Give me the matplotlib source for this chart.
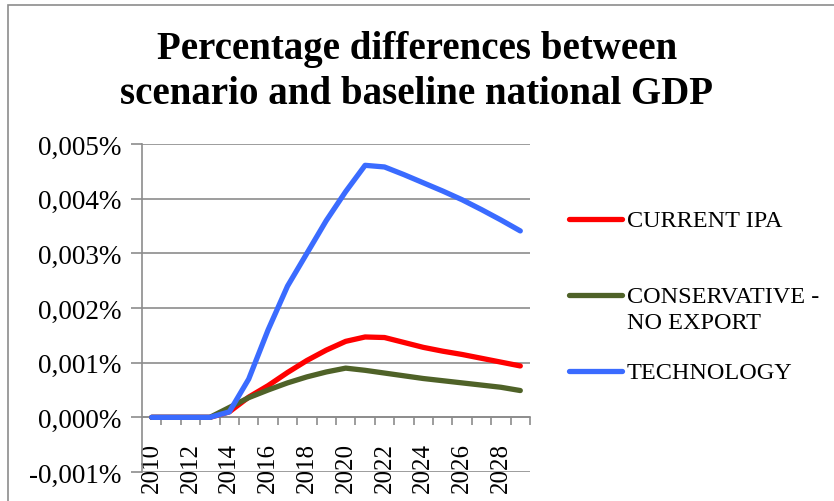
"""Percentage differences between scenario and baseline national GDP."""

import numpy as np
import matplotlib.pyplot as plt
from matplotlib.lines import Line2D
from matplotlib.patches import Rectangle
from matplotlib.ticker import FixedLocator, FuncFormatter

plt.rcParams['font.family'] = ['Liberation Serif', 'DejaVu Serif']

years = list(range(2010, 2030))
current_ipa = [0, 0, 0, 0, 0.0001, 0.00037, 0.00058, 0.00082, 0.00104, 0.00123,
               0.00139, 0.00147, 0.00146, 0.00137, 0.00128, 0.00121, 0.00115,
               0.00108, 0.00101, 0.00094]
conservative = [0, 0, 0, 0, 0.00018, 0.00036, 0.0005, 0.00063, 0.00074, 0.00083,
                0.0009, 0.00086, 0.00081, 0.00076, 0.00071, 0.00067, 0.00063,
                0.00059, 0.00055, 0.00049]
technology = [0, 0, 0, 0, 0.0001, 0.0007, 0.0016, 0.0024, 0.0030, 0.0036,
              0.00413, 0.00461, 0.00458, 0.00444, 0.00429, 0.00414, 0.00398,
              0.0038, 0.00361, 0.00341]
series = [
    ('CURRENT IPA', current_ipa, '#FF0000'),
    ('CONSERVATIVE -\nNO EXPORT', conservative, '#4F6228'),
    ('TECHNOLOGY', technology, '#3A6BFF'),
]

W, H = 834, 502
fig = plt.figure(figsize=(W / 100, H / 100), dpi=100)
fig.patches.append(Rectangle((8 / W, -0.1), 1.2, 1.1 - 6 / H, transform=fig.transFigure,
                             fill=False, edgecolor='#8C8C8C', linewidth=1.2))

ax = fig.add_axes([142 / W, 1 - 473 / H, (530 - 142) / W, (473 - 145) / H])

x = np.arange(len(years)) + 0.5
for label, vals, color in series:
    ax.plot(x, vals, color=color, linewidth=3.8, solid_capstyle='round',
            solid_joinstyle='round', zorder=3)

ax.set_xlim(0, len(years))
ax.set_ylim(-0.001, 0.005)
ax.set_yticks(np.arange(-0.001, 0.0051, 0.001))
ax.yaxis.set_major_formatter(FuncFormatter(lambda v, p: f"{v:.3f}%".replace('.', ',')))
ax.grid(axis='y', color='#8C8C8C', linewidth=1.2)
ax.set_axisbelow(True)

for s in ['top', 'right']:
    ax.spines[s].set_visible(False)
for s in ['left', 'bottom']:
    ax.spines[s].set_color('#8C8C8C')
    ax.spines[s].set_linewidth(1.2)
ax.spines['bottom'].set_position(('data', 0))

ax.xaxis.set_major_locator(FixedLocator(np.arange(1, len(years) + 1)))
ax.xaxis.set_major_formatter(FuncFormatter(lambda v, p: ''))
ax.xaxis.set_minor_locator(FixedLocator(x[::2]))
ax.set_xticklabels([str(y) for y in years[::2]], minor=True, rotation=90,
                   fontsize=18, va='top')
ax.tick_params(axis='x', which='major', direction='out', length=6,
               color='#8C8C8C', width=1.2)
ax.tick_params(axis='x', which='minor', length=0, pad=18)
ax.tick_params(axis='y', direction='out', length=8, color='#8C8C8C', width=1.2,
               labelsize=19.5, pad=7)

fig.text(0.5, 1 - 50 / H, 'Percentage differences between', ha='center', va='center',
         fontsize=28, fontweight='bold')
fig.text(0.5, 1 - 95 / H, 'scenario and baseline national GDP', ha='center', va='center',
         fontsize=28, fontweight='bold')

# legend drawn by hand to keep Excel's uneven spacing
legend_y = [220, 296, 372]
for (label, vals, color), ly in zip(series, legend_y):
    fig.add_artist(Line2D([569 / W, 622 / W], [1 - ly / H, 1 - ly / H], color=color,
                          linewidth=3.8, solid_capstyle='round', transform=fig.transFigure))
    fig.text(627 / W, 1 - (ly - 9) / H, label, fontsize=17.5, va='top',
             linespacing=1.3)

plt.savefig('out.png', dpi=100)
